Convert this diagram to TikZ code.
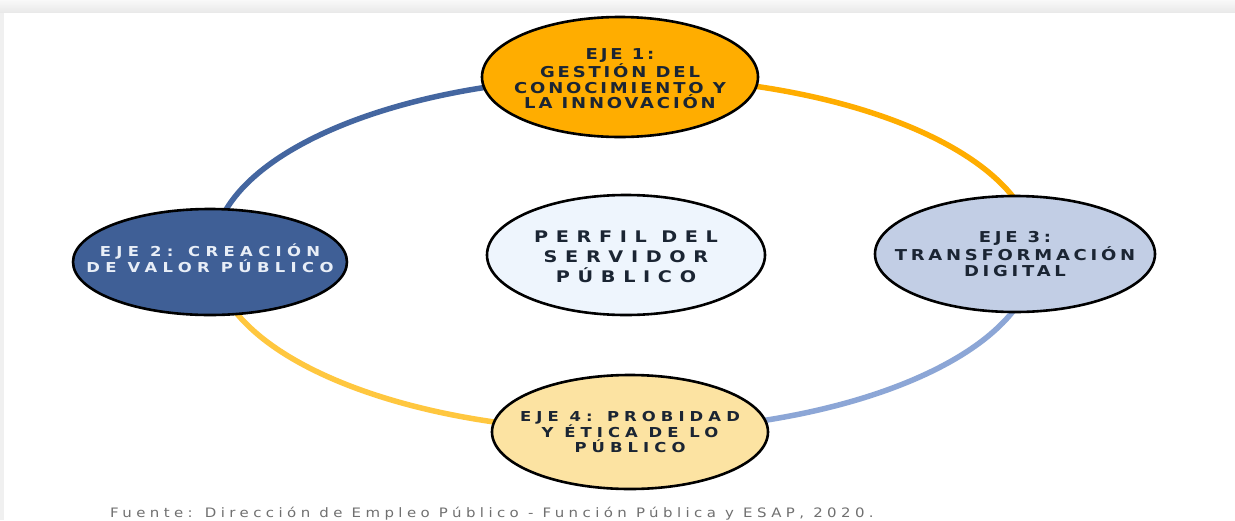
\documentclass[tikz,border=0pt]{standalone}
\usepackage{fontspec}
\newfontfamily\ejefont{DejaVu Sans}[FakeStretch=1.2]
\newfontfamily\fuentefont{DejaVu Sans}[FakeStretch=1.15, LetterSpace=34]
\usetikzlibrary{shapes.geometric}

\definecolor{ejeorange}{HTML}{FFAD00}
\definecolor{ejeblue}{HTML}{3F5F96}
\definecolor{ejelight}{HTML}{C2CEE5}
\definecolor{ejeyellow}{HTML}{FCE3A2}
\definecolor{ejecenter}{HTML}{EEF5FD}
\definecolor{ringblue}{HTML}{4466A0}
\definecolor{ringlight}{HTML}{8CA6D6}
\definecolor{ringyellow}{HTML}{FFC73F}
\definecolor{txtdark}{HTML}{1B2533}
\definecolor{txtlight}{HTML}{E8EEF7}
\definecolor{footgray}{HTML}{707070}

\begin{document}
\begin{tikzpicture}[x=1pt, y=-1pt,
  eje/.style={ellipse, draw=black, line width=2.6pt, inner sep=0pt},
  ejetext/.style={align=center, inner sep=0pt, text=txtdark},
  ring/.style={line width=5.5pt}]
\useasboundingbox (0,0) rectangle (1235,520);
\shade[top color=gray!5, bottom color=gray!18] (0,0) rectangle (1235,13);
\fill[gray!12] (0,13) rectangle (4,520);
\fill[white] (4,13) rectangle (1235,520);

% ring behind the axes
\draw[ring, ringblue] (624,77) arc[start angle=-90, end angle=-180, x radius=411, y radius=177];
\draw[ring, ringyellow] (213,254) arc[start angle=-180, end angle=-270, x radius=411, y radius=177];
\draw[ring, ringlight] (624,431) arc[start angle=-270, end angle=-360, x radius=411, y radius=177];
\draw[ring, ejeorange] (1035,254) arc[start angle=0, end angle=-90, x radius=411, y radius=177];

\node[eje, fill=ejeorange, minimum width=276, minimum height=120] (eje1) at (620,77) {};
\node[eje, fill=ejeblue, minimum width=274, minimum height=106] (eje2) at (210,262) {};
\node[eje, fill=ejelight, minimum width=280, minimum height=116] (eje3) at (1015,254) {};
\node[eje, fill=ejeyellow, minimum width=276, minimum height=114] (eje4) at (630,432) {};
\node[eje, fill=ejecenter, minimum width=278, minimum height=120] (perfil) at (626,255) {};

\node[ejetext, font=\ejefont\bfseries\addfontfeature{LetterSpace=19}\fontsize{15}{15.5}\selectfont] (eje1-t) at ([yshift=-2]eje1) {EJE 1:\\GESTIÓN DEL\\CONOCIMIENTO Y\\LA INNOVACIÓN};
\node[ejetext, text=txtlight, font=\ejefont\bfseries\addfontfeature{LetterSpace=39}\fontsize{13.7}{16}\selectfont] (eje2-t) at ([yshift=4]eje2) {EJE 2: CREACIÓN\\DE VALOR PÚBLICO};
\node[ejetext, font=\ejefont\bfseries\addfontfeature{LetterSpace=25}\fontsize{15}{16}\selectfont] (eje3-t) at (eje3) {EJE 3:\\TRANSFORMACIÓN\\DIGITAL};
\node[ejetext, font=\ejefont\bfseries\addfontfeature{LetterSpace=37}\fontsize{13.7}{15}\selectfont] (eje4-t) at (eje4) {EJE 4: PROBIDAD\\Y ÉTICA DE LO\\PÚBLICO};
\node[ejetext, font=\ejefont\bfseries\addfontfeature{LetterSpace=48}\fontsize{16}{20}\selectfont] (perfil-t) at ([yshift=-2]perfil) {PERFIL DEL\\SERVIDOR\\PÚBLICO};

\node[anchor=base west, inner sep=0pt, text=footgray, font=\fuentefont\fontsize{13}{13}\selectfont] (fuente) at (110,517) {Fuente: Dirección de Empleo Público - Función Pública y ESAP, 2020.};
\end{tikzpicture}
\end{document}
